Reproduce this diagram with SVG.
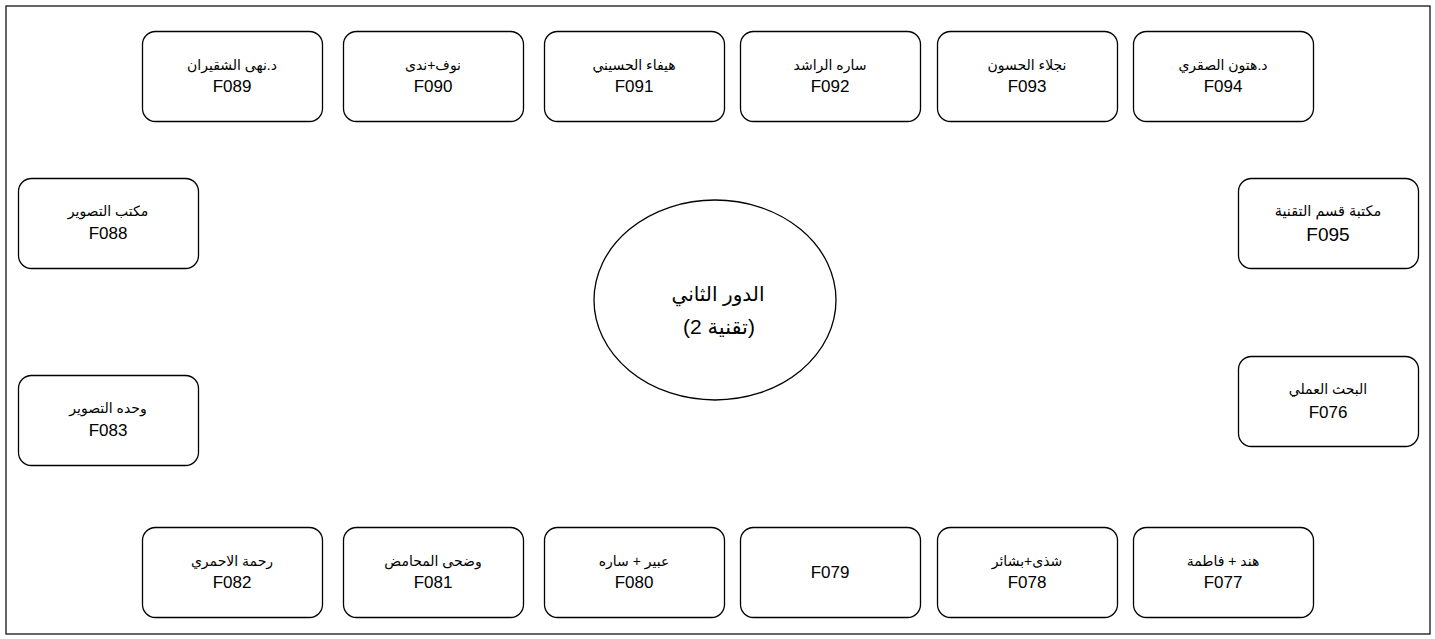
<svg xmlns="http://www.w3.org/2000/svg" width="1435" height="639" viewBox="0 0 1435 639">
<style>
.box{fill:#fff;stroke:#000;stroke-width:1.3}
.t{font-family:"Liberation Sans","DejaVu Sans",Arial,sans-serif;fill:#000;text-anchor:middle}
.ar{font-size:14px}
.cd{font-size:17px}
</style>
<rect x="6" y="6" width="1424" height="628" fill="#fff" stroke="#000" stroke-width="1.2"/>
<g id="connectors"/>
<g id="center">
<ellipse cx="715" cy="300" rx="121" ry="100" class="box"/>
<text class="t" x="718" y="301" font-size="20">الدور الثاني</text>
<text class="t" x="719" y="334" font-size="21">(تقنية 2)</text>
</g>
<g id="F089"><rect class="box" x="142.5" y="31.5" width="180" height="90" rx="13"/><text class="t ar" x="232" y="70">د.نهى الشقيران</text><text class="t cd" x="232" y="92">F089</text></g>
<g id="F090"><rect class="box" x="343.5" y="31.5" width="180" height="90" rx="13"/><text class="t ar" x="433" y="70">نوف+ندى</text><text class="t cd" x="433" y="92">F090</text></g>
<g id="F091"><rect class="box" x="544.5" y="31.5" width="180" height="90" rx="13"/><text class="t ar" x="634" y="70">هيفاء الحسيني</text><text class="t cd" x="634" y="92">F091</text></g>
<g id="F092"><rect class="box" x="740.5" y="31.5" width="180" height="90" rx="13"/><text class="t ar" x="830" y="70">ساره الراشد</text><text class="t cd" x="830" y="92">F092</text></g>
<g id="F093"><rect class="box" x="937.5" y="31.5" width="180" height="90" rx="13"/><text class="t ar" x="1027" y="70">نجلاء الحسون</text><text class="t cd" x="1027" y="92">F093</text></g>
<g id="F094"><rect class="box" x="1133.5" y="31.5" width="180" height="90" rx="13"/><text class="t ar" x="1223" y="70">د.هتون الصقري</text><text class="t cd" x="1223" y="92">F094</text></g>
<g id="F088"><rect class="box" x="18.5" y="178.5" width="180" height="90" rx="13"/><text class="t ar" x="108" y="216">مكتب التصوير</text><text class="t cd" x="108" y="239">F088</text></g>
<g id="F083"><rect class="box" x="18.5" y="375.5" width="180" height="90" rx="13"/><text class="t ar" x="108" y="413">وحده التصوير</text><text class="t cd" x="108" y="436">F083</text></g>
<g id="F095"><rect class="box" x="1238.5" y="178.5" width="180" height="90" rx="13"/><text class="t" font-size="14.5" x="1328" y="216">مكتبة قسم التقنية</text><text class="t" font-size="19" x="1328" y="241">F095</text></g>
<g id="F076"><rect class="box" x="1238.5" y="356.5" width="180" height="90" rx="13"/><text class="t ar" x="1328" y="394">البحث العملي</text><text class="t cd" x="1328" y="418">F076</text></g>
<g id="F082"><rect class="box" x="142.5" y="527.5" width="180" height="90" rx="13"/><text class="t ar" x="232" y="566">رحمة الاحمري</text><text class="t cd" x="232" y="588">F082</text></g>
<g id="F081"><rect class="box" x="343.5" y="527.5" width="180" height="90" rx="13"/><text class="t ar" x="433" y="566">وضحى المحامض</text><text class="t cd" x="433" y="588">F081</text></g>
<g id="F080"><rect class="box" x="544.5" y="527.5" width="180" height="90" rx="13"/><text class="t ar" x="634" y="566">عبير + ساره</text><text class="t cd" x="634" y="588">F080</text></g>
<g id="F079"><rect class="box" x="740.5" y="527.5" width="180" height="90" rx="13"/><text class="t cd" x="830" y="578">F079</text></g>
<g id="F078"><rect class="box" x="937.5" y="527.5" width="180" height="90" rx="13"/><text class="t ar" x="1027" y="566">شذى+بشائر</text><text class="t cd" x="1027" y="588">F078</text></g>
<g id="F077"><rect class="box" x="1133.5" y="527.5" width="180" height="90" rx="13"/><text class="t ar" x="1223" y="566">هند + فاطمة</text><text class="t cd" x="1223" y="588">F077</text></g>
</svg>
